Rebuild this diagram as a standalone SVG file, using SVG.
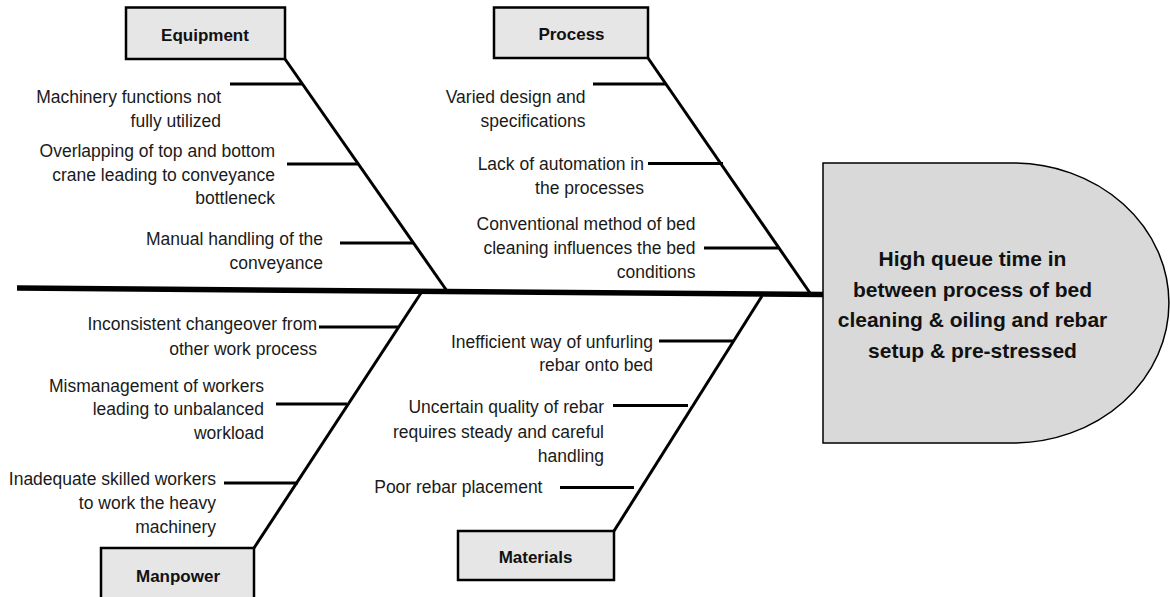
<svg xmlns="http://www.w3.org/2000/svg" width="1170" height="597" viewBox="0 0 1170 597">
<style>
.box{fill:#e6e6e6;stroke:#000;stroke-width:2.5}
.head{fill:#d9d9d9;stroke:#000;stroke-width:1.5}
.bone{stroke:#000;stroke-width:3;fill:none}
.spine{stroke:#000;stroke-width:5.5;fill:none}
.lbl{font-family:"Liberation Sans",Arial,sans-serif;font-size:17.5px;fill:#1a1a1a;text-anchor:end}
.cat{font-family:"Liberation Sans",Arial,sans-serif;font-size:17px;font-weight:bold;fill:#111;text-anchor:middle}
.ht{font-family:"Liberation Sans",Arial,sans-serif;font-size:21px;font-weight:bold;fill:#111;text-anchor:middle}
</style>
<rect width="1170" height="597" fill="#fff"/>
<g id="connectors">
<line class="spine" x1="17" y1="288" x2="823" y2="294.5"/>
<line class="bone" x1="285" y1="59" x2="447" y2="291"/>
<line class="bone" x1="648" y1="58" x2="810" y2="293"/>
<line class="bone" x1="254" y1="548" x2="421" y2="293"/>
<line class="bone" x1="614" y1="531" x2="762" y2="296"/>
<line class="bone" x1="230" y1="84" x2="302" y2="84"/>
<line class="bone" x1="287" y1="164" x2="358" y2="164"/>
<line class="bone" x1="340" y1="243" x2="414" y2="243"/>
<line class="bone" x1="593" y1="84" x2="666" y2="84"/>
<line class="bone" x1="648" y1="163.5" x2="723" y2="163.5"/>
<line class="bone" x1="704" y1="248" x2="778" y2="248"/>
<line class="bone" x1="319" y1="327" x2="398" y2="327"/>
<line class="bone" x1="276" y1="404" x2="347" y2="404"/>
<line class="bone" x1="224" y1="483" x2="298" y2="483"/>
<line class="bone" x1="659" y1="341" x2="733" y2="341"/>
<line class="bone" x1="613" y1="405.5" x2="688" y2="405.5"/>
<line class="bone" x1="560" y1="487.5" x2="634" y2="487.5"/>
</g>
<g id="equipment">
<rect class="box" x="126" y="7.5" width="159" height="51.5"/>
<text class="cat" x="205" y="41">Equipment</text>
</g>
<g id="process">
<rect class="box" x="494" y="7.5" width="154" height="50.5"/>
<text class="cat" x="571.5" y="40">Process</text>
</g>
<g id="manpower">
<rect class="box" x="101" y="548" width="153" height="60"/>
<text class="cat" x="178" y="581.5">Manpower</text>
</g>
<g id="materials">
<rect class="box" x="458" y="531" width="156" height="49"/>
<text class="cat" x="535.5" y="562.5">Materials</text>
</g>
<g id="head">
<path class="head" d="M823,163 H1013 A156,140 0 0 1 1013,443 H823 Z"/>
<text class="ht" x="972.5" y="265.5">High queue time in</text>
<text class="ht" x="972.5" y="296.5">between process of bed</text>
<text class="ht" x="972.5" y="327">cleaning &amp; oiling and rebar</text>
<text class="ht" x="972.5" y="357.5">setup &amp; pre-stressed</text>
</g>
<g id="cause-equipment-1"><text class="lbl" x="221" y="102.5">Machinery functions not</text><text class="lbl" x="221" y="126.5">fully utilized</text></g>
<g id="cause-equipment-2"><text class="lbl" x="275" y="157">Overlapping of top and bottom</text><text class="lbl" x="275" y="180.5">crane leading to conveyance</text><text class="lbl" x="275" y="204">bottleneck</text></g>
<g id="cause-equipment-3"><text class="lbl" x="323" y="245">Manual handling of the</text><text class="lbl" x="323" y="269">conveyance</text></g>
<g id="cause-process-1"><text class="lbl" x="585.5" y="103">Varied design and</text><text class="lbl" x="585.5" y="127">specifications</text></g>
<g id="cause-process-2"><text class="lbl" x="644" y="169.5">Lack of automation in</text><text class="lbl" x="644" y="193.5">the processes</text></g>
<g id="cause-process-3"><text class="lbl" x="695.5" y="230">Conventional method of bed</text><text class="lbl" x="695.5" y="253.5">cleaning influences the bed</text><text class="lbl" x="695.5" y="277.5">conditions</text></g>
<g id="cause-manpower-1"><text class="lbl" x="317" y="330">Inconsistent changeover from</text><text class="lbl" x="317" y="355">other work process</text></g>
<g id="cause-manpower-2"><text class="lbl" x="264" y="391.5">Mismanagement of workers</text><text class="lbl" x="264" y="415">leading to unbalanced</text><text class="lbl" x="264" y="439">workload</text></g>
<g id="cause-manpower-3"><text class="lbl" x="216" y="485">Inadequate skilled workers</text><text class="lbl" x="216" y="509">to work the heavy</text><text class="lbl" x="216" y="533">machinery</text></g>
<g id="cause-materials-1"><text class="lbl" x="653" y="348">Inefficient way of unfurling</text><text class="lbl" x="653" y="371">rebar onto bed</text></g>
<g id="cause-materials-2"><text class="lbl" x="604" y="413">Uncertain quality of rebar</text><text class="lbl" x="604" y="437.5">requires steady and careful</text><text class="lbl" x="604" y="461.5">handling</text></g>
<g id="cause-materials-3"><text class="lbl" x="542.5" y="492.5">Poor rebar placement</text></g>
</svg>
